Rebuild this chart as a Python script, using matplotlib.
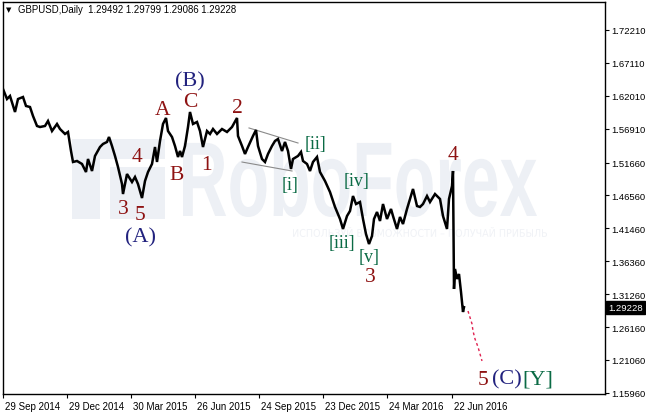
import matplotlib

matplotlib.use("Agg")

import matplotlib.pyplot as plt
from matplotlib.font_manager import FontProperties
from matplotlib.patches import PathPatch, Rectangle
from matplotlib.textpath import TextPath
from matplotlib.transforms import Affine2D, IdentityTransform, ScaledTranslation

# --- data (bar index = trading day since 29 Sep 2014) ---
header_symbol = "GBPUSD,Daily"
header_ohlc = ["1.29492", "1.29799", "1.29086", "1.29228"]
last_price = 1.29228

bar_index = [
    0, 4, 7, 12, 15, 20, 23, 27, 30, 34, 37, 42, 45, 49, 54, 57, 62, 65, 68, 70,
    74, 79, 83, 85, 89, 92, 97, 100, 104, 106, 109, 112, 115, 119, 120, 124, 129,
    132, 135, 139, 142, 145, 149, 152, 154, 157, 160, 163, 165, 169, 172, 175, 177,
    179, 182, 185, 187, 190, 194, 197, 200, 204, 207, 210, 214, 219, 224, 229, 234,
    235, 239, 242, 245, 250, 253, 255, 259, 262, 265, 269, 272, 275, 279, 282, 285,
    288, 290, 295, 298, 300, 304, 307, 310, 314, 317, 322, 327, 332, 337, 340, 344,
    347, 350, 353, 357, 360, 363, 366, 369, 371, 374, 377, 380, 384, 388, 390, 394,
    397, 400, 404, 407, 410, 414, 417, 420, 424, 427, 432, 437, 440, 444, 446, 449,
    450, 451, 452, 454, 456, 458, 460, 461,
]
close_price = [
    1.6306, 1.6151, 1.6198, 1.5950, 1.6151, 1.6182, 1.6043, 1.6027, 1.5888, 1.5733,
    1.5717, 1.5733, 1.5810, 1.5655, 1.5764, 1.5686, 1.5609, 1.5640, 1.5345, 1.5175,
    1.5190, 1.5144, 1.5019, 1.5221, 1.5035, 1.5268, 1.5407, 1.5454, 1.5485, 1.5562,
    1.5422, 1.5268, 1.5097, 1.4833, 1.4678, 1.4988, 1.4864, 1.4942, 1.4833, 1.4616,
    1.4880, 1.5019, 1.5144, 1.5407, 1.5175, 1.5500, 1.5764, 1.5857, 1.5655, 1.5562,
    1.5422, 1.5252, 1.5345, 1.5252, 1.5422, 1.5717, 1.5950, 1.5764, 1.5795, 1.5655,
    1.5407, 1.5655, 1.5609, 1.5686, 1.5609, 1.5686, 1.5640, 1.5717, 1.5857, 1.5578,
    1.5423, 1.5299, 1.5407, 1.5578, 1.5671, 1.5423, 1.5221, 1.5175, 1.5299, 1.5423,
    1.5500, 1.5531, 1.5345, 1.5485, 1.5345, 1.5066, 1.5221, 1.5268, 1.5330, 1.5190,
    1.5144, 1.5035, 1.5175, 1.5252, 1.5019, 1.4880, 1.4709, 1.4477, 1.4291, 1.4136,
    1.4337, 1.4415, 1.4647, 1.4523, 1.4554, 1.4291, 1.4058, 1.3903, 1.4027, 1.4291,
    1.4399, 1.4260, 1.4523, 1.4291, 1.4446, 1.4337, 1.4136, 1.4322, 1.4213, 1.4446,
    1.4601, 1.4756, 1.4492, 1.4477, 1.4523, 1.4647, 1.4554, 1.4678, 1.4601, 1.4337,
    1.4136, 1.4601, 1.4802, 1.5035, 1.3206, 1.3516, 1.3361, 1.3438, 1.3159, 1.2849,
    1.2923,
]

projection_index = [465, 469, 470, 472, 475, 479]
projection_price = [1.2864, 1.2665, 1.2555, 1.2431, 1.2307, 1.2090]

upper_line_index = [246, 295]
upper_line_price = [1.5702, 1.5469]
lower_line_index = [239, 289]
lower_line_price = [1.5174, 1.5035]

price_ticks = [1.72210, 1.67110, 1.62010, 1.56910, 1.51660, 1.46560,
               1.41460, 1.36360, 1.31260, 1.26160, 1.21060, 1.15960]
date_tick_index = [0, 64, 128, 192, 256, 320, 384, 449]
date_tick_labels = ["29 Sep 2014", "29 Dec 2014", "30 Mar 2015", "26 Jun 2015",
                    "24 Sep 2015", "23 Dec 2015", "24 Mar 2016", "22 Jun 2016"]

# wave labels: text, bar index, price, style
wave_labels = [
    ("(B)", 187, 1.6430, "major"),
    ("A", 160, 1.5996, "minor"),
    ("C", 187, 1.6120, "minor"),
    ("2", 234, 1.6027, "minor"),
    ("4", 134, 1.5252, "minor"),
    ("B", 174, 1.4988, "minor"),
    ("1", 203, 1.5128, "minor"),
    ("3", 120, 1.4446, "minor"),
    ("5", 137, 1.4368, "minor"),
    ("(A)", 137, 1.4012, "major"),
    ("[i]", 287, 1.4833, "sub"),
    ("[ii]", 313, 1.5454, "sub"),
    ("[iv]", 354, 1.4880, "sub"),
    ("[iii]", 339, 1.3934, "sub"),
    ("[v]", 366, 1.3702, "sub"),
    ("3", 367, 1.3392, "minor"),
    ("4", 450, 1.5298, "minor"),
    ("5", 480, 1.1810, "minor"),
    ("(C)", 504, 1.1810, "major"),
    ("[Y]", 535, 1.1810, "subbig"),
]

label_styles = {
    "minor": dict(color="#8e1212", fontsize=15.5),
    "major": dict(color="#22227e", fontsize=16),
    "sub": dict(color="#0b6b45", fontsize=13),
    "subbig": dict(color="#0b6b45", fontsize=16),
}

W, H = 646, 414
SANS = ["Liberation Sans", "DejaVu Sans"]
SERIF = ["Liberation Serif", "DejaVu Serif"]
WATERMARK = "#edf0f5"


def stretched_text(ax, text, x0, y0, width, height, prop, color):
    """Draw text as a path squeezed into a pixel box (origin bottom-left)."""
    tp = TextPath((0, 0), text, size=1, prop=prop)
    bb = tp.get_extents()
    tr = (Affine2D().translate(-bb.x0, -bb.y0)
          .scale(width / bb.width, height / bb.height)
          .translate(x0, y0))
    patch = PathPatch(tr.transform_path(tp), facecolor=color, edgecolor="none",
                      transform=IdentityTransform(), zorder=0.5)
    ax.add_patch(patch)


fig = plt.figure(figsize=(W / 100, H / 100), dpi=100)
fig.patch.set_facecolor("white")
ax = fig.add_axes([3 / W, 19 / H, 602 / W, 392 / H])

# watermark (logo blocks, brand name, slogan)
for x0, y0, w, h in [(72, 194, 28, 80), (100, 254, 65, 20), (110, 194, 55, 52)]:
    ax.add_patch(Rectangle((x0, y0), w, h, facecolor=WATERMARK, edgecolor="none",
                           transform=IdentityTransform(), zorder=0.4))
stretched_text(ax, "RoboForex", 183, H - 218, 354, 78,
               FontProperties(family="Liberation Sans", weight="bold"), WATERMARK)
stretched_text(ax, "ИСПОЛЬЗУЙ ВОЗМОЖНОСТИ – ПОЛУЧАЙ ПРИБЫЛЬ", 293, H - 238, 254, 10,
               FontProperties(family="DejaVu Sans"), "#f0f2f6")

ax.plot(bar_index, close_price, color="black", lw=1.8, solid_joinstyle="miter", zorder=2)
ax.plot(projection_index, projection_price, color="#e0204f", lw=1.0,
        ls=(0, (2, 2)), zorder=2)
ax.plot(upper_line_index, upper_line_price, color="#8a8a8a", lw=0.8, zorder=1.5)
ax.plot(lower_line_index, lower_line_price, color="#8a8a8a", lw=0.8, zorder=1.5)

for text, xi, yp, style in wave_labels:
    ax.text(xi, yp, text, ha="center", va="center", family=SERIF,
            zorder=3, **label_styles[style])

ax.set_xlim(0, 602)
ax.set_ylim(1.15775, 1.76551)

ax.yaxis.tick_right()
ax.set_yticks(price_ticks)
ax.set_yticklabels([f"{v:.5f}" for v in price_ticks], family=SANS, fontsize=6.8)
ax.set_xticks(date_tick_index)
ax.set_xticklabels(date_tick_labels, family=SANS, fontsize=7.0, ha="left")
ax.tick_params(axis="both", direction="out", length=3, width=0.8, color="black")
ax.tick_params(axis="y", pad=1.2)
ax.tick_params(axis="x", pad=2)
shift = ScaledTranslation(2 / 100, 0, fig.dpi_scale_trans)
for lab in ax.get_xticklabels():
    lab.set_transform(lab.get_transform() + shift)

for side in ax.spines.values():
    side.set_linewidth(1.0)
    side.set_color("black")

# current price marker on the price scale
ax.annotate(f"{last_price:.5f}", xy=(1.0, last_price), xycoords=ax.get_yaxis_transform(),
            xytext=(2.2, 0), textcoords="offset points", ha="left", va="center",
            family=SANS, fontsize=6.8, color="white",
            bbox=dict(boxstyle="square,pad=0.22", facecolor="black", edgecolor="black"),
            annotation_clip=False)

# chart header
fig.text(6 / W, 1 - 10 / H, "▼", family="DejaVu Sans", fontsize=5, va="center")
fig.text(18 / W, 1 - 10 / H, header_symbol + "  " + " ".join(header_ohlc),
         family=SANS, fontsize=6.9, va="center")

fig.savefig("out.png", dpi=100)
plt.close(fig)
